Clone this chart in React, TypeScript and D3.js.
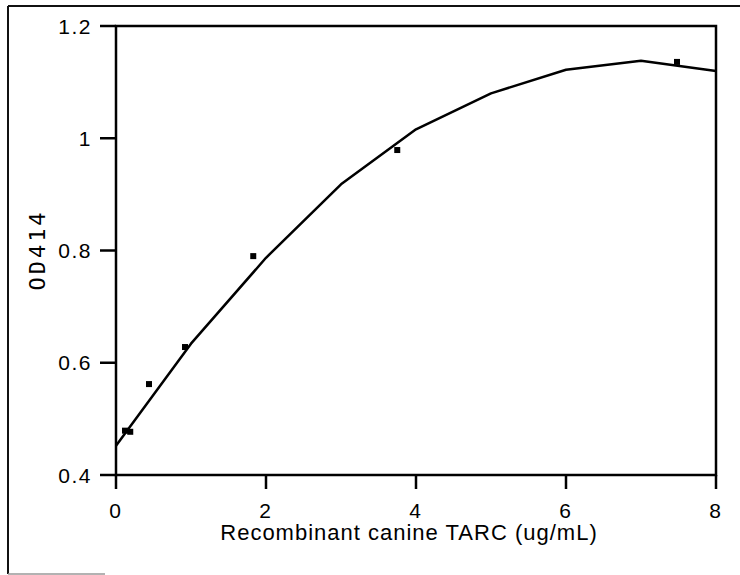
import React, { useEffect, useRef } from 'react';
import * as d3 from 'd3';

// measured standards (points)
const concentrations = [0.12, 0.19, 0.44, 0.92, 1.83, 3.75, 7.48];
const odValues = [0.479, 0.477, 0.562, 0.628, 0.79, 0.979, 1.136];

// fitted curve as drawn
const curveX = [0, 1, 2, 3, 4, 5, 6, 7, 8];
const curveY = [0.452, 0.634, 0.787, 0.918, 1.016, 1.08, 1.122, 1.138, 1.12];

const xTicks = [0, 2, 4, 6, 8];
const yTicks = [0.4, 0.6, 0.8, 1, 1.2];
const xLabel = 'Recombinant canine TARC (ug/mL)';
const yLabel = 'OD414';

const W = 740;
const H = 575;
const margin = { left: 116, right: 24, top: 26, bottom: 100 };

const App: React.FC = () => {
  const ref = useRef<SVGSVGElement>(null);

  useEffect(() => {
    if (!ref.current) return;
    const svg = d3.select(ref.current);
    svg.selectAll('*').remove();

    const font = '"Liberation Sans", Arial, Helvetica, sans-serif';

    const x = d3.scaleLinear()
      .domain([0, 8])
      .range([margin.left, W - margin.right]);
    const y = d3.scaleLinear()
      .domain([0.4, 1.2])
      .range([H - margin.bottom, margin.top]);

    // outer frame (scanned figure border)
    svg.append('line')
      .attr('x1', 8).attr('y1', 6).attr('x2', W).attr('y2', 6)
      .attr('stroke', '#111').attr('stroke-width', 2);
    svg.append('line')
      .attr('x1', 8).attr('y1', 6).attr('x2', 8).attr('y2', 574)
      .attr('stroke', '#111').attr('stroke-width', 2);
    svg.append('line')
      .attr('x1', 8).attr('y1', 574).attr('x2', 105).attr('y2', 574)
      .attr('stroke', '#999').attr('stroke-width', 1.5);

    // plot box
    svg.append('rect')
      .attr('x', x(0)).attr('y', y(1.2))
      .attr('width', x(8) - x(0)).attr('height', y(0.4) - y(1.2))
      .attr('fill', 'none')
      .attr('stroke', '#000')
      .attr('stroke-width', 2.5);

    // y ticks
    const yAxis = svg.append('g');
    yTicks.forEach(t => {
      yAxis.append('line')
        .attr('x1', x(0) - 16).attr('x2', x(0))
        .attr('y1', y(t)).attr('y2', y(t))
        .attr('stroke', '#000').attr('stroke-width', 2.5);
      yAxis.append('text')
        .attr('x', x(0) - 24)
        .attr('y', y(t))
        .attr('dy', '0.36em')
        .attr('text-anchor', 'end')
        .style('font-family', font)
        .style('font-size', '21px')
        .style('letter-spacing', '1.5px')
        .text(String(t));
    });

    // x ticks
    const xAxis = svg.append('g');
    xTicks.forEach(t => {
      xAxis.append('line')
        .attr('x1', x(t)).attr('x2', x(t))
        .attr('y1', y(0.4)).attr('y2', y(0.4) + 14)
        .attr('stroke', '#000').attr('stroke-width', 2.5);
      xAxis.append('text')
        .attr('x', x(t) - 1)
        .attr('y', 518)
        .attr('text-anchor', 'middle')
        .style('font-family', font)
        .style('font-size', '21px')
        .text(String(t));
    });

    // axis labels
    svg.append('text')
      .attr('x', 409)
      .attr('y', 540)
      .attr('text-anchor', 'middle')
      .style('font-family', font)
      .style('font-size', '22px')
      .style('letter-spacing', '1px')
      .text(xLabel);

    svg.append('text')
      .attr('transform', 'translate(45,250) rotate(-90)')
      .attr('text-anchor', 'middle')
      .style('font-family', '"DejaVu Sans Mono", monospace')
      .style('font-size', '22px')
      .style('letter-spacing', '3px')
      .text(yLabel);

    // fitted curve
    const line = d3.line<number>()
      .x((_, i) => x(curveX[i]))
      .y(d => y(d));
    svg.append('path')
      .datum(curveY)
      .attr('fill', 'none')
      .attr('stroke', '#000')
      .attr('stroke-width', 2.5)
      .attr('stroke-linejoin', 'round')
      .attr('d', line);

    // data points
    svg.append('g')
      .selectAll('rect')
      .data(odValues)
      .join('rect')
      .attr('x', (_, i) => x(concentrations[i]) - 3)
      .attr('y', d => y(d) - 3)
      .attr('width', 6)
      .attr('height', 6)
      .attr('fill', '#000');
  }, []);

  return (
    <svg
      ref={ref}
      width={W}
      height={H}
      style={{ position: 'absolute', left: 0, top: 0, background: '#fff' }}
    />
  );
};

export default App;
